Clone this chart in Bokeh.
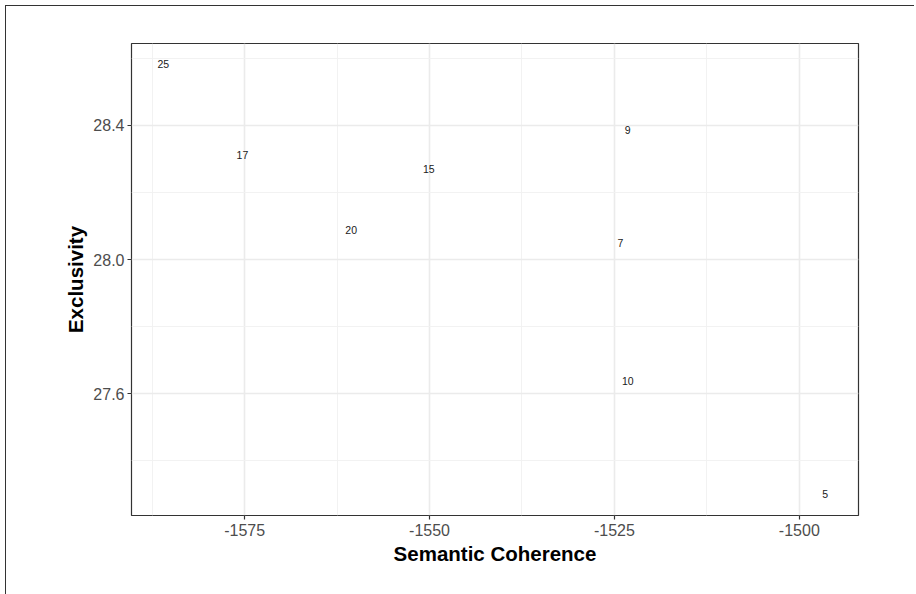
from bokeh.plotting import figure
from bokeh.models import FixedTicker, ColumnDataSource, PrintfTickFormatter, Range1d
from bokeh.core.properties import value
from bokeh.embed import file_html
from bokeh.resources import INLINE

# Data
topics = ["25", "17", "15", "20", "9", "7", "10", "5"]
semantic_coherence = [-1586.0, -1575.3, -1550.1, -1560.6, -1523.2, -1524.2, -1523.2, -1496.5]
exclusivity = [28.582, 28.313, 28.269, 28.089, 28.388, 28.051, 27.637, 27.300]

x_ticks = [-1575, -1550, -1525, -1500]
x_minor = [-1587.5, -1562.5, -1537.5, -1512.5]
y_ticks = [27.6, 28.0, 28.4]
y_minor = [27.4, 27.8, 28.2, 28.6]

FONT = "Liberation Sans"

p = figure(width=909, height=589, output_backend="svg", toolbar_location=None,
           x_range=Range1d(-1590.3, -1492.0), y_range=Range1d(27.237, 28.6445),
           min_border_left=125, min_border_right=57, min_border_top=37, min_border_bottom=80)
p.margin = (5, 0, 0, 5)
p.styles = {"border-left": "1.5px solid #333333", "border-top": "1.5px solid #333333"}

src = ColumnDataSource(dict(x=semantic_coherence, y=exclusivity, t=topics))
p.text(x="x", y="y", text="t", source=src, text_align="center", text_baseline="middle",
       text_font=value(FONT), text_font_size="10.5px", text_color="#1a1a1a")

p.xaxis.ticker = FixedTicker(ticks=x_ticks, minor_ticks=x_minor)
p.yaxis.ticker = FixedTicker(ticks=y_ticks, minor_ticks=y_minor)
p.xaxis.formatter = PrintfTickFormatter(format="%d")
p.yaxis.formatter = PrintfTickFormatter(format="%.1f")

p.xaxis.axis_label = "Semantic Coherence"
p.yaxis.axis_label = "Exclusivity"

for ax in (p.xaxis, p.yaxis):
    ax.axis_line_color = None
    ax.major_tick_line_color = "#333333"
    ax.major_tick_line_width = 1.2
    ax.major_tick_in = 0
    ax.major_tick_out = 4
    ax.minor_tick_line_color = None
    ax.major_label_text_font = FONT
    ax.major_label_text_font_size = "16px"
    ax.major_label_text_color = "#4d4d4d"
    ax.axis_label_text_font = FONT
    ax.axis_label_text_font_size = "20.5px"
    ax.axis_label_text_font_style = "bold"
    ax.axis_label_text_color = "#000000"

p.xaxis.major_label_standoff = 4
p.yaxis.major_label_standoff = 3
p.xaxis.axis_label_standoff = 3
p.yaxis.axis_label_standoff = 3

p.outline_line_color = "#333333"
p.outline_line_width = 1.2

for g in (p.xgrid, p.ygrid):
    g.grid_line_color = "#ebebeb"
    g.grid_line_width = 1.6
    g.minor_grid_line_color = "#f0f0f0"
    g.minor_grid_line_width = 0.9

p.background_fill_color = "white"
p.border_fill_color = "white"

open("out.html", "w").write(file_html(p, INLINE))
